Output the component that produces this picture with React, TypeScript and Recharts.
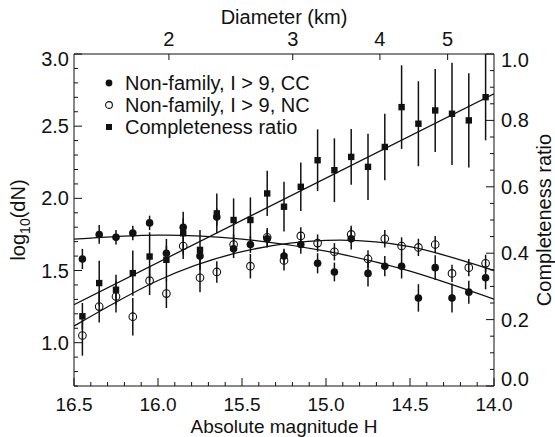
import React from 'react';
import { ComposedChart, Scatter, Line, XAxis, YAxis, ErrorBar, Legend } from 'recharts';

// Absolute magnitude bins
const magnitudes = [16.45, 16.35, 16.25, 16.15, 16.05, 15.95, 15.85, 15.75, 15.65, 15.55, 15.45, 15.35, 15.25, 15.15, 15.05, 14.95, 14.85, 14.75, 14.65, 14.55, 14.45, 14.35, 14.25, 14.15, 14.05];
// Non-family, I > 9, CC  (log10 dN)
const ccValues = [1.58, 1.75, 1.73, 1.76, 1.83, 1.62, 1.80, 1.60, 1.87, 1.65, 1.68, 1.72, 1.60, 1.68, 1.55, 1.49, 1.72, 1.48, 1.53, 1.53, 1.31, 1.52, 1.31, 1.35, 1.45];
const ccErrors = [0.07, 0.065, 0.05, 0.05, 0.05, 0.05, 0.06, 0.06, 0.06, 0.064, 0.058, 0.06, 0.05, 0.064, 0.07, 0.065, 0.075, 0.09, 0.07, 0.085, 0.095, 0.085, 0.1, 0.08, 0.08];
// Non-family, I > 9, NC  (log10 dN)
const ncValues = [1.05, 1.25, 1.32, 1.18, 1.43, 1.34, 1.67, 1.45, 1.49, 1.68, 1.53, 1.73, 1.57, 1.74, 1.69, 1.63, 1.75, 1.58, 1.72, 1.67, 1.66, 1.68, 1.48, 1.52, 1.55];
const ncErrors = [0.14, 0.11, 0.11, 0.13, 0.1, 0.1, 0.09, 0.1, 0.075, 0.07, 0.085, 0.065, 0.07, 0.06, 0.06, 0.06, 0.06, 0.06, 0.06, 0.06, 0.06, 0.06, 0.06, 0.06, 0.06];
// Completeness ratio (right axis)
const ratioValues = [0.21, 0.31, 0.29, 0.34, 0.39, 0.38, 0.46, 0.41, 0.52, 0.50, 0.50, 0.58, 0.54, 0.60, 0.68, 0.65, 0.69, 0.66, 0.72, 0.84, 0.79, 0.83, 0.82, 0.80, 0.87];
const ratioErrors = [0.04, 0.067, 0.045, 0.068, 0.073, 0.063, 0.065, 0.06, 0.06, 0.065, 0.068, 0.068, 0.075, 0.073, 0.093, 0.096, 0.084, 0.1, 0.1, 0.126, 0.128, 0.125, 0.154, 0.142, 0.13];

// Fitted curves
const fitMagnitudes = [16.5, 16.0, 15.5, 15.0, 14.5, 14.0];
const ccFit = [1.717, 1.745, 1.717, 1.634, 1.495, 1.301];
const ncFit = [1.115, 1.431, 1.631, 1.709, 1.665, 1.50];
const ratioFitMagnitudes = [16.5, 14.0];
const ratioFit = [0.245, 0.88];

// Axis ticks
const magnitudeTicks = [16.5, 16.4, 16.3, 16.2, 16.1, 16.0, 15.9, 15.8, 15.7, 15.6, 15.5, 15.4, 15.3, 15.2, 15.1, 15.0, 14.9, 14.8, 14.7, 14.6, 14.5, 14.4, 14.3, 14.2, 14.1, 14.0];
const logTicks = [0.7, 0.8, 0.9, 1.0, 1.1, 1.2, 1.3, 1.4, 1.5, 1.6, 1.7, 1.8, 1.9, 2.0, 2.1, 2.2, 2.3, 2.4, 2.5, 2.6, 2.7, 2.8, 2.9, 3.0];
const ratioTicks = [0, 0.05, 0.1, 0.15, 0.2, 0.25, 0.3, 0.35, 0.4, 0.45, 0.5, 0.55, 0.6, 0.65, 0.7, 0.75, 0.8, 0.85, 0.9, 0.95, 1.0];
const diameterLabels = ['2', '3', '4', '5'];
const diameterMagnitudes = [15.935, 15.198, 14.679, 14.276];

const legendLabels = ['Non-family, I > 9, CC', 'Non-family, I > 9, NC', 'Completeness ratio'];

const FONT = '"Liberation Sans", Arial, Helvetica, sans-serif';
const INK = '#111';

const ccData = magnitudes.map((h, i) => ({ H: h, v: ccValues[i], e: ccErrors[i] }));
const ncData = magnitudes.map((h, i) => ({ H: h, v: ncValues[i], e: ncErrors[i] }));
const ratioData = magnitudes.map((h, i) => ({ H: h, v: ratioValues[i], e: ratioErrors[i] }));
const ccFitData = fitMagnitudes.map((h, i) => ({ H: h, v: ccFit[i] }));
const ncFitData = fitMagnitudes.map((h, i) => ({ H: h, v: ncFit[i] }));
const ratioFitData = ratioFitMagnitudes.map((h, i) => ({ H: h, v: ratioFit[i] }));

const isMultiple = (v: number, step: number) => Math.abs(v / step - Math.round(v / step)) < 1e-6;

const FilledCircle = (p: any) => <circle cx={p.cx} cy={p.cy} r={3.8} fill={INK} />;
const OpenCircle = (p: any) => <circle cx={p.cx} cy={p.cy} r={3.8} fill="none" stroke={INK} strokeWidth={1.1} />;
const Square = (p: any) => <rect x={p.cx - 3.2} y={p.cy - 3.2} width={6.4} height={6.4} fill={INK} />;

const textStyle = { fontFamily: FONT, fontSize: 20, fill: INK };
const bottomTextStyle = { fontFamily: FONT, fontSize: 19, fill: INK };

const BottomTick = (props: any) => {
  const { x, y, payload } = props;
  const v = payload.value;
  const major = isMultiple(v, 0.5);
  return (
    <g>
      <line x1={x} x2={x} y1={y} y2={y - (major ? 8 : 4)} stroke={INK} strokeWidth={1} />
      {major && (
        <text x={x} y={y + 25} textAnchor="middle" style={bottomTextStyle}>
          {v.toFixed(1)}
        </text>
      )}
    </g>
  );
};

const TopTick = (props: any) => {
  const { x, y, payload } = props;
  const idx = diameterMagnitudes.findIndex((d) => Math.abs(d - payload.value) < 1e-6);
  return (
    <g>
      <line x1={x} x2={x} y1={y} y2={y + 6} stroke={INK} strokeWidth={1} />
      <text x={x} y={y - 8} textAnchor="middle" style={textStyle}>
        {idx >= 0 ? diameterLabels[idx] : ''}
      </text>
    </g>
  );
};

const LeftTick = (props: any) => {
  const { x, y, payload } = props;
  const v = payload.value;
  const major = isMultiple(v, 0.5);
  return (
    <g>
      <line x1={x} x2={x + (major ? 8 : 4)} y1={y} y2={y} stroke={INK} strokeWidth={1} />
      {major && (
        <text x={x - 5} y={Math.max(y, 59) + 7} textAnchor="end" style={textStyle}>
          {v.toFixed(1)}
        </text>
      )}
    </g>
  );
};

const RightTick = (props: any) => {
  const { x, y, payload } = props;
  const v = payload.value;
  const major = isMultiple(v, 0.2);
  return (
    <g>
      <line x1={x} x2={x - (major ? 8 : 4)} y1={y} y2={y} stroke={INK} strokeWidth={1} />
      {major && (
        <text x={x + 7} y={Math.min(Math.max(y, 60), 379) + 7} textAnchor="start" style={textStyle}>
          {v.toFixed(1)}
        </text>
      )}
    </g>
  );
};

const BottomTitle = () => (
  <text x={284} y={432.5} textAnchor="middle" style={bottomTextStyle}>Absolute magnitude H</text>
);
const TopTitle = () => (
  <text x={284} y={24} textAnchor="middle" style={textStyle}>Diameter (km)</text>
);
const LeftTitle = () => (
  <text x={220} y={25} transform="rotate(-90) translate(-440 0)" textAnchor="middle" style={textStyle}>
    <tspan>log</tspan>
    <tspan dy={5} fontSize={14}>10</tspan>
    <tspan dy={-5}>(dN)</tspan>
  </text>
);
const RightTitle = () => (
  <text x={-220} y={551} transform="rotate(-90)" textAnchor="middle" style={textStyle}>
    Completeness ratio
  </text>
);

const legendMarkers = [
  <circle key="a" cx={6} cy={6} r={3.4} fill={INK} />,
  <circle key="b" cx={6} cy={6} r={3.4} fill="none" stroke={INK} strokeWidth={1.1} />,
  <rect key="c" x={3} y={3} width={6} height={6} fill={INK} />,
];

const renderLegend = () => (
  <div style={{ fontFamily: FONT, fontSize: 20, color: INK }}>
    {legendLabels.map((label, i) => (
      <div key={label} style={{ display: 'flex', alignItems: 'center', height: 22 }}>
        <svg width={12} height={12} style={{ display: 'block' }}>{legendMarkers[i]}</svg>
        <span style={{ marginLeft: 10, lineHeight: '22px', whiteSpace: 'nowrap' }}>{label}</span>
      </div>
    ))}
  </div>
);

export default function App() {
  return (
    <div style={{ position: 'absolute', left: 0, top: 0, width: 555, height: 437, background: '#fff' }}>
      <ComposedChart width={555} height={437} margin={{ top: 0, right: 0, bottom: 0, left: 0 }} style={{ fontFamily: FONT }}>
        <XAxis
          xAxisId="bottom"
          dataKey="H"
          type="number"
          domain={[14, 16.5]}
          reversed
          allowDataOverflow
          ticks={magnitudeTicks}
          interval={0}
          tickSize={0}
          tickMargin={0}
          tickLine={false}
          tick={BottomTick}
          axisLine={{ stroke: INK, strokeWidth: 1 }}
          height={51}
          label={{ content: BottomTitle }}
        />
        <XAxis
          xAxisId="top"
          orientation="top"
          dataKey="H"
          type="number"
          domain={[14, 16.5]}
          reversed
          allowDataOverflow
          ticks={diameterMagnitudes}
          interval={0}
          tickSize={0}
          tickMargin={0}
          tickLine={false}
          tick={TopTick}
          axisLine={{ stroke: INK, strokeWidth: 1 }}
          height={54}
          label={{ content: TopTitle }}
        />
        <YAxis
          yAxisId="left"
          type="number"
          domain={[0.7, 3.0]}
          allowDataOverflow
          ticks={logTicks}
          interval={0}
          tickSize={0}
          tickMargin={0}
          tickLine={false}
          tick={LeftTick}
          axisLine={{ stroke: INK, strokeWidth: 1 }}
          width={74}
          label={{ content: LeftTitle }}
        />
        <YAxis
          yAxisId="right"
          orientation="right"
          type="number"
          domain={[0, 1]}
          allowDataOverflow
          ticks={ratioTicks}
          interval={0}
          tickSize={0}
          tickMargin={0}
          tickLine={false}
          tick={RightTick}
          axisLine={{ stroke: INK, strokeWidth: 1 }}
          width={61}
          label={{ content: RightTitle }}
        />
        <Legend
          content={renderLegend}
          layout="vertical"
          align="center"
          verticalAlign="middle"
          wrapperStyle={{ top: 72, left: 103, width: 'auto', height: 'auto' }}
        />
        <Line xAxisId="bottom" yAxisId="left" data={ccFitData} dataKey="v" type="natural" stroke={INK} strokeWidth={1.3} dot={false} isAnimationActive={false} legendType="none" />
        <Line xAxisId="bottom" yAxisId="left" data={ncFitData} dataKey="v" type="natural" stroke={INK} strokeWidth={1.3} dot={false} isAnimationActive={false} legendType="none" />
        <Line xAxisId="top" yAxisId="right" data={ratioFitData} dataKey="v" type="linear" stroke={INK} strokeWidth={1.3} dot={false} isAnimationActive={false} legendType="none" />
        <Scatter xAxisId="bottom" yAxisId="right" data={ratioData} dataKey="v" shape={Square} isAnimationActive={false}>
          <ErrorBar dataKey="e" direction="y" width={0} stroke={INK} strokeWidth={1.5} />
        </Scatter>
        <Scatter xAxisId="bottom" yAxisId="left" data={ncData} dataKey="v" shape={OpenCircle} isAnimationActive={false}>
          <ErrorBar dataKey="e" direction="y" width={0} stroke={INK} strokeWidth={1.5} />
        </Scatter>
        <Scatter xAxisId="bottom" yAxisId="left" data={ccData} dataKey="v" shape={FilledCircle} isAnimationActive={false}>
          <ErrorBar dataKey="e" direction="y" width={0} stroke={INK} strokeWidth={1.5} />
        </Scatter>
      </ComposedChart>
    </div>
  );
}
